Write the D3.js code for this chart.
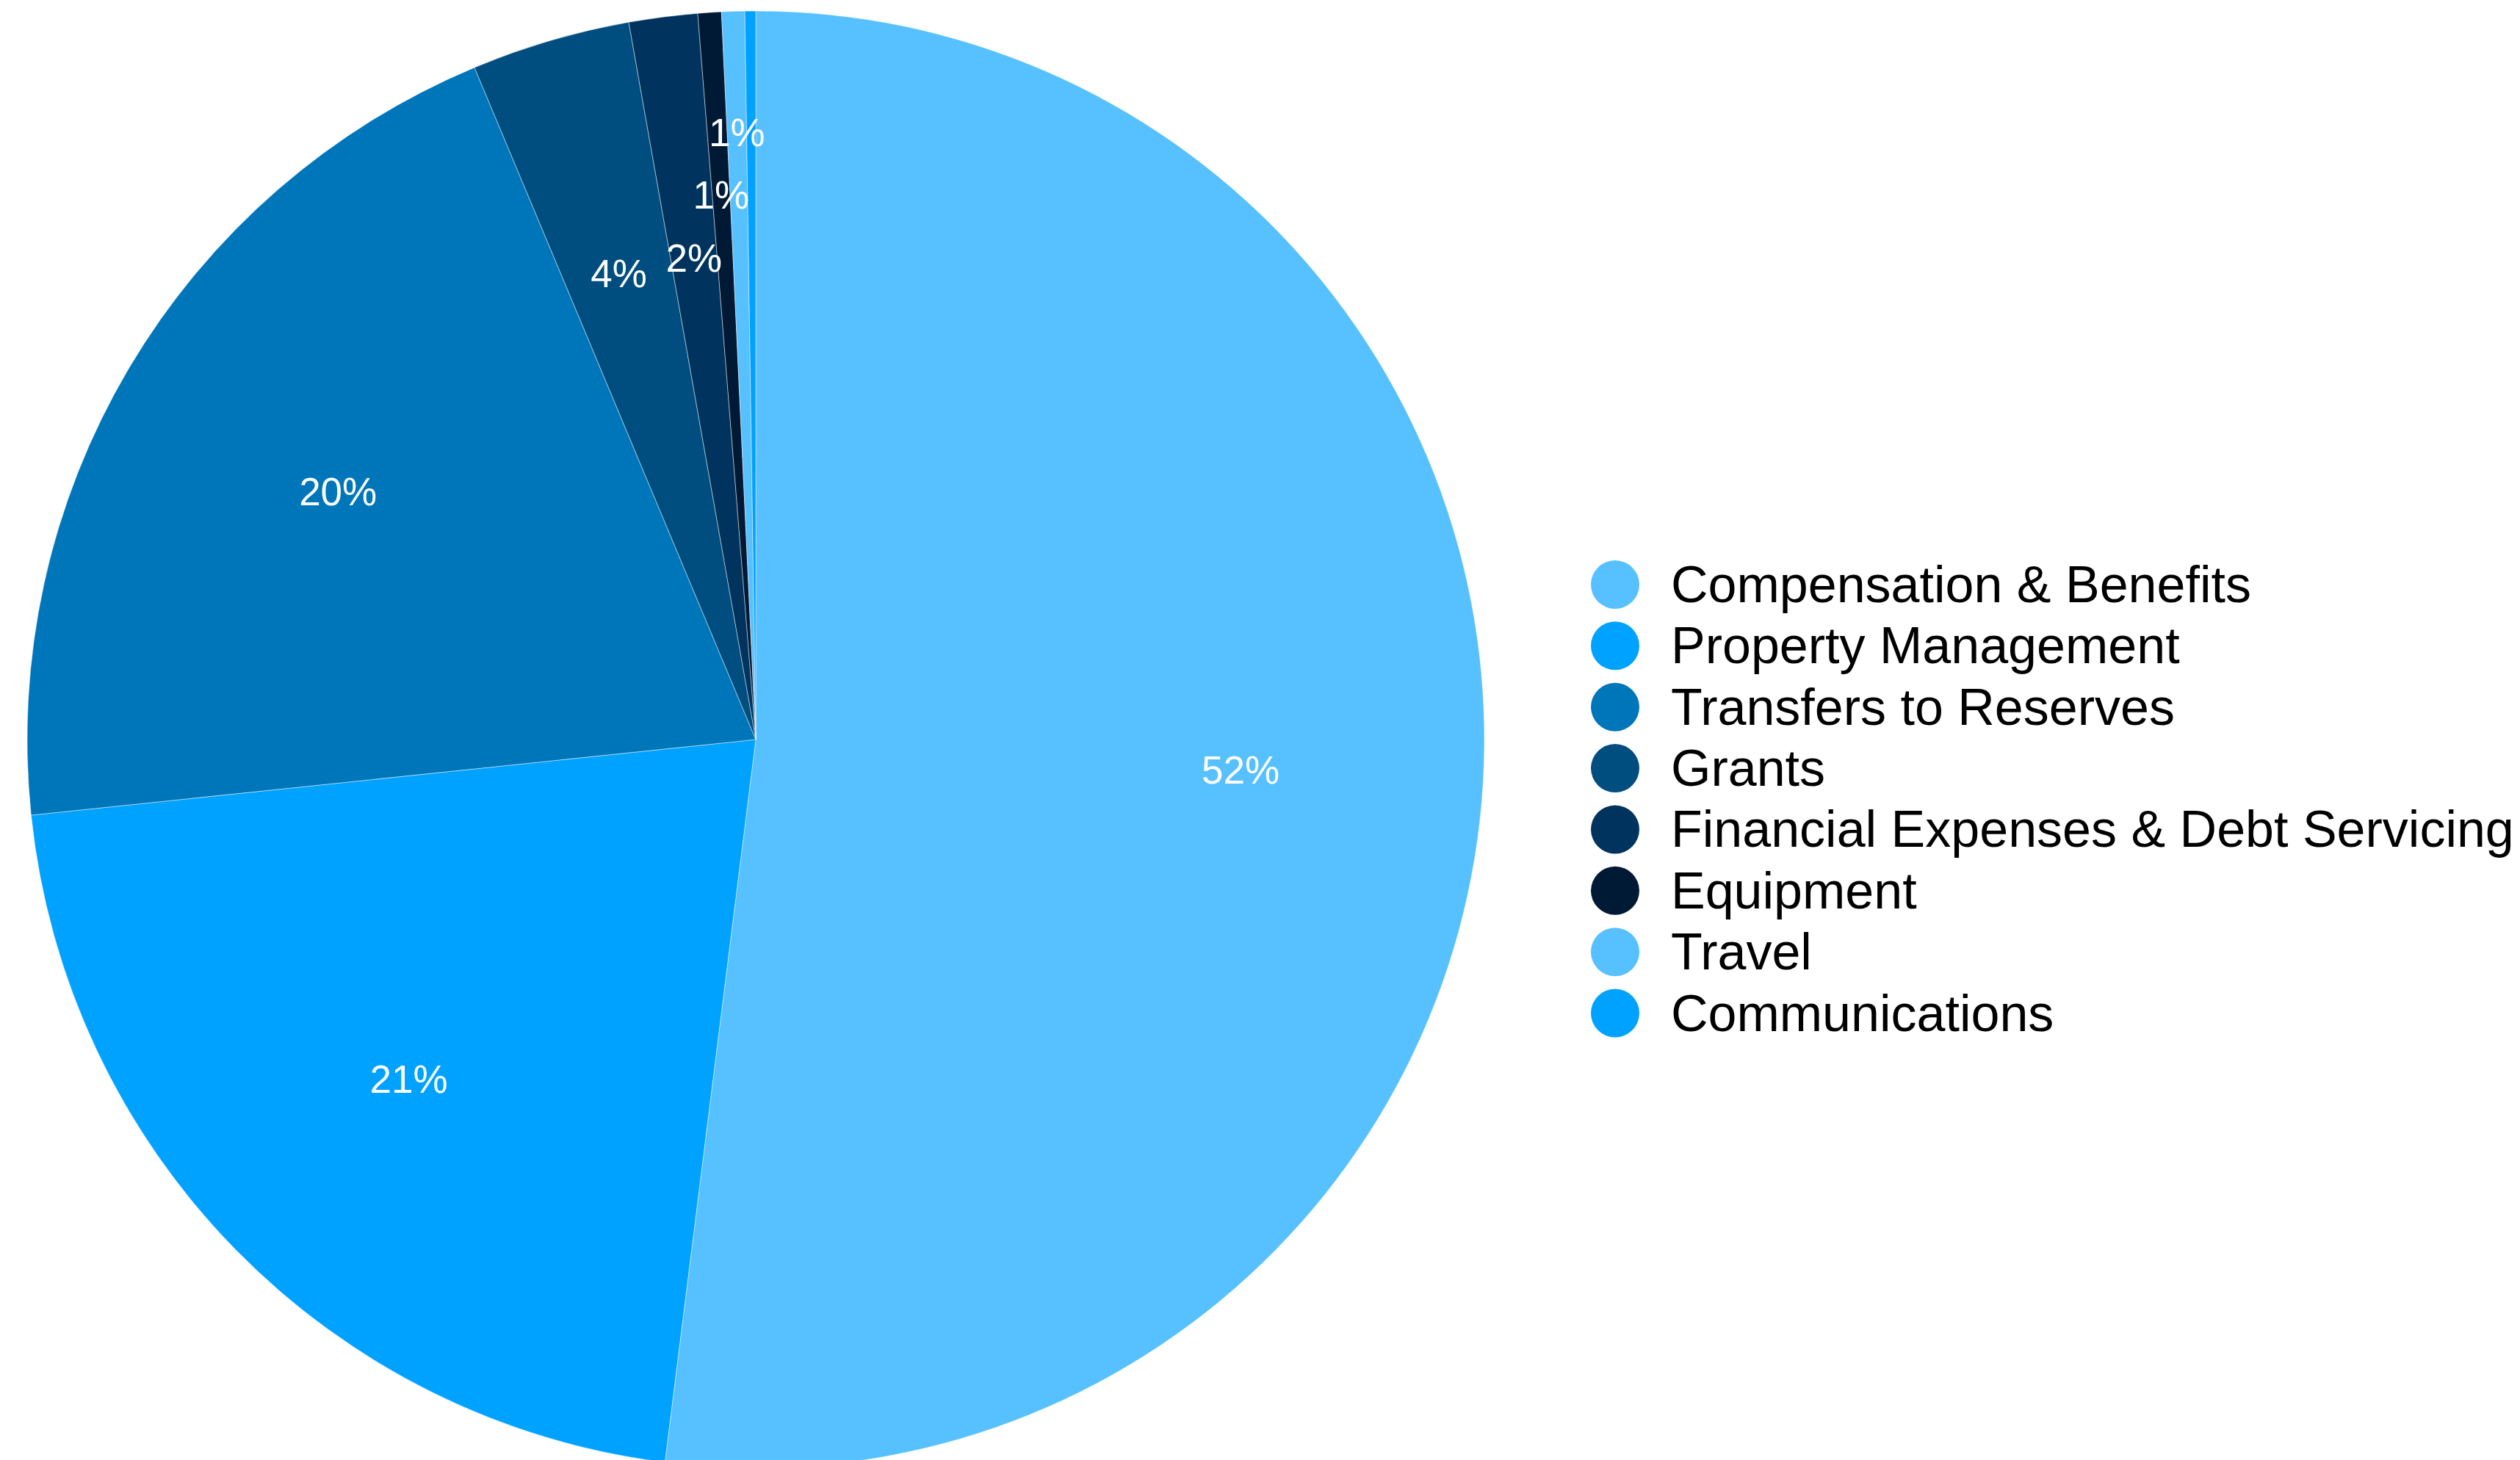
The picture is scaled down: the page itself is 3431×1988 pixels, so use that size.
<!DOCTYPE html>
<html>
<head>
<meta charset="utf-8">
<script src="https://cdn.jsdelivr.net/npm/d3@7"></script>
<style>
  html, body { margin: 0; padding: 0; background: #ffffff; }
  svg { display: block; }
  text { font-family: "Liberation Sans", Arial, Helvetica, sans-serif; }
</style>
</head>
<body>
<svg id="chart" width="3431" height="1988"></svg>
<script>
// Expense categories and their share of the total (percent)
const categories = [
  "Compensation & Benefits",
  "Property Management",
  "Transfers to Reserves",
  "Grants",
  "Financial Expenses & Debt Servicing",
  "Equipment",
  "Travel",
  "Communications"
];
const shares = [52.0, 21.36, 20.35, 3.52, 1.52, 0.52, 0.51, 0.24];
const palette = ["#57C0FE", "#00A2FF", "#0076BA", "#004D80", "#00345F", "#001A36", "#57C0FE", "#00A2FF"];

const W = 3431, H = 1988;
const cx = 1029, cy = 1007, R = 992;
const labelSize = 53;
const legendSize = 70;

const svg = d3.select("#chart");
const data = categories.map((name, i) => ({ name, value: shares[i], color: palette[i] }));
const total = d3.sum(shares);

const pie = d3.pie().value(d => d.value).sort(null);
const arcs = pie(data);
const arc = d3.arc().innerRadius(0).outerRadius(R);

const g = svg.append("g").attr("transform", `translate(${cx},${cy})`);

g.selectAll("path.slice")
  .data(arcs)
  .join("path")
  .attr("class", "slice")
  .attr("d", arc)
  .attr("fill", d => d.data.color)
  .attr("stroke", "rgba(255,255,255,0.45)")
  .attr("stroke-width", 1);

// Percentage labels: start at two thirds of the radius, move outward on collision
const fmt = v => Math.round(v / total * 100) + "%";
const placed = [];
const labelG = g.append("g");
arcs.forEach(a => {
  const txt = fmt(a.data.value);
  if (txt === "0%") return;
  const mid = (a.startAngle + a.endAngle) / 2;
  const t = labelG.append("text")
    .attr("text-anchor", "middle")
    .attr("dominant-baseline", "central")
    .attr("fill", "#ffffff")
    .attr("font-size", labelSize)
    .text(txt);
  const w = t.node().getComputedTextLength();
  const h = labelSize * 1.6;
  let r = R * 2 / 3;
  let x, y;
  const overlaps = () => placed.some(b =>
    Math.abs(b.x - x) < (b.w + w) / 2 && Math.abs(b.y - y) < (b.h + h) / 2);
  for (;;) {
    x = Math.sin(mid) * r;
    y = -Math.cos(mid) * r;
    if (!overlaps() || r > R) break;
    r += 2;
  }
  placed.push({ x, y, w, h });
  t.attr("x", x).attr("y", y);
});

// Legend
const legendY = d3.scalePoint().domain(categories).range([796, 1379.5]);
const legend = svg.append("g");
const items = legend.selectAll("g.item")
  .data(data)
  .join("g")
  .attr("class", "item")
  .attr("transform", d => `translate(2199,${legendY(d.name)})`);
items.append("circle").attr("r", 33).attr("fill", d => d.color);
items.append("text")
  .attr("x", 76)
  .attr("dominant-baseline", "central")
  .attr("font-size", legendSize)
  .attr("fill", "#000000")
  .text(d => d.name);
</script>
</body>
</html>
